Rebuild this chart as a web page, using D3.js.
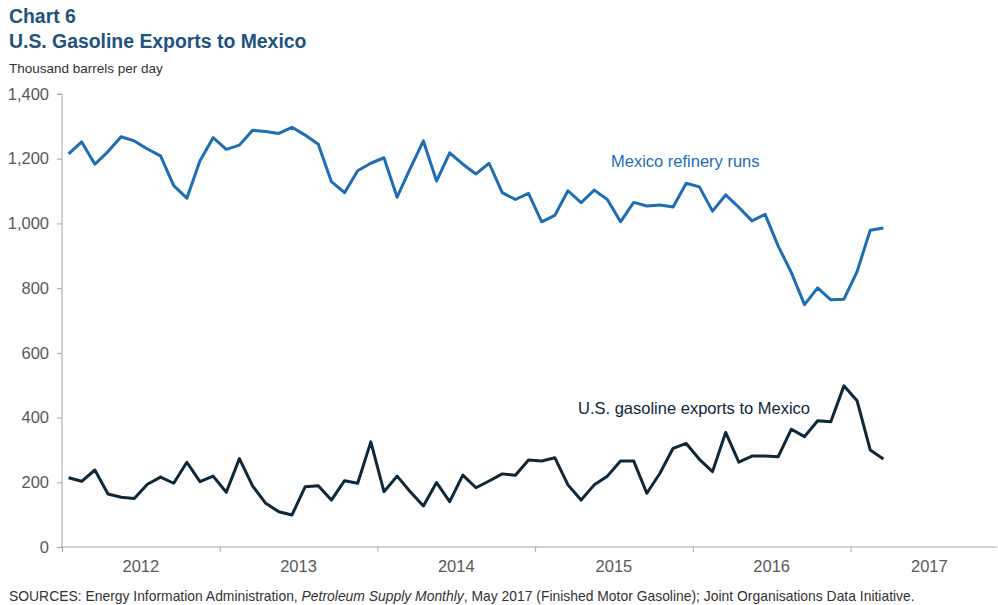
<!DOCTYPE html>
<html>
<head>
<meta charset="utf-8">
<script src="https://cdn.jsdelivr.net/npm/d3@7"></script>
<style>
  body { margin: 0; background: #fff; }
  svg { display: block; font-family: "Liberation Sans", Arial, sans-serif; }
</style>
</head>
<body>
<svg id="chart" width="998" height="605"></svg>
<script>
// monthly values, Jan 2012 - Mar 2017
var years = ["2012", "2013", "2014", "2015", "2016", "2017"];
var yTicks = [0, 200, 400, 600, 800, 1000, 1200, 1400];

var refineryRuns = [
    1215, 1252, 1183, 1222, 1268, 1255, 1230, 1209, 1117, 1078, 1194, 1265,
    1229, 1242, 1288, 1284, 1278, 1297, 1273, 1245, 1129, 1095, 1163, 1186,
    1203, 1081, 1170, 1255, 1131, 1218, 1183, 1153, 1186, 1095, 1074, 1093,
    1005, 1025, 1101, 1064, 1103, 1074, 1005, 1065, 1054, 1057, 1051, 1124,
    1113, 1038, 1088, 1050, 1008, 1028, 930, 848, 749, 801, 764, 766,
    851, 979, 986
];

var gasolineExports = [
    214, 203, 238, 164, 154, 150, 194, 216, 197, 262, 202, 219,
    169, 273, 189, 135, 109, 99, 186, 189, 145, 205, 197, 325,
    171, 219, 171, 127, 199, 140, 222, 183, 204, 226, 222, 269,
    266, 276, 192, 145, 192, 219, 266, 266, 166, 228, 305, 320,
    271, 233, 354, 262, 281, 281, 279, 364, 341, 390, 387, 498,
    452, 300, 272
];

const draw = () =>
{
    var svg = d3.select("#chart");

    var plotLeft = 62, plotRight = 997, plotTop = 94, plotBottom = 547;
    var monthW = 157.7 / 12;

    var x = d3.scaleLinear().domain([0, 72]).range([plotLeft, plotLeft + 72 * monthW]);
    var y = d3.scaleLinear().domain([0, 1400]).range([plotBottom, plotTop]);

    // titles
    svg.append("text").attr("x", 9).attr("y", 23)
        .attr("font-size", 19.4).attr("font-weight", "bold").attr("fill", "#22527f")
        .text("Chart 6");
    svg.append("text").attr("x", 9).attr("y", 48)
        .attr("font-size", 19.4).attr("font-weight", "bold").attr("fill", "#22527f")
        .text("U.S. Gasoline Exports to Mexico");
    svg.append("text").attr("x", 9).attr("y", 73)
        .attr("font-size", 13.5).attr("fill", "#333")
        .text("Thousand barrels per day");

    // y axis
    var yAxis = svg.append("g").attr("transform", `translate(${plotLeft},0)`)
        .call(d3.axisLeft(y).tickValues(yTicks).tickSize(5).tickPadding(8)
            .tickFormat(d3.format(",")));
    yAxis.select(".domain").attr("stroke", "#a6a6a6").attr("d", `M-5,${plotTop}H0V${plotBottom}`);
    yAxis.selectAll(".tick line").attr("stroke", "#a6a6a6");
    yAxis.selectAll(".tick text").attr("font-size", 16.5).attr("fill", "#595959")
        .attr("font-family", "Liberation Sans, Arial, sans-serif");

    // x axis
    var xAxis = svg.append("g").attr("transform", `translate(0,${plotBottom})`)
        .call(d3.axisBottom(x).tickValues([0, 12, 24, 36, 48, 60]).tickSize(5).tickFormat(""));
    xAxis.select(".domain").attr("stroke", "#a6a6a6").attr("d", `M${plotLeft},0H${plotRight}`);
    xAxis.selectAll(".tick line").attr("stroke", "#a6a6a6");

    svg.append("g").selectAll("text")
        .data(years)
        .enter().append("text")
        .attr("x", (d, i) => x(i * 12 + 6))
        .attr("y", plotBottom + 25)
        .attr("text-anchor", "middle")
        .attr("font-size", 16.5).attr("fill", "#595959")
        .text(d => d);

    // lines
    var line = d3.line()
        .x((d, i) => x(i + 0.5))
        .y(d => y(d));

    svg.append("path").datum(refineryRuns)
        .attr("fill", "none").attr("stroke", "#1f6db4").attr("stroke-width", 3)
        .attr("stroke-linejoin", "round")
        .attr("d", line);

    svg.append("path").datum(gasolineExports)
        .attr("fill", "none").attr("stroke", "#0e2739").attr("stroke-width", 3)
        .attr("stroke-linejoin", "round")
        .attr("d", line);

    // series labels
    svg.append("text").attr("x", 611).attr("y", 167)
        .attr("font-size", 16.5).attr("fill", "#1f6db4")
        .text("Mexico refinery runs");
    svg.append("text").attr("x", 578).attr("y", 414)
        .attr("font-size", 16.5).attr("fill", "#0e2739")
        .text("U.S. gasoline exports to Mexico");

    // source
    var src = svg.append("text").attr("x", 9).attr("y", 601)
        .attr("font-size", 13.9).attr("fill", "#333");
    src.append("tspan").text("SOURCES: Energy Information Administration, ");
    src.append("tspan").attr("font-style", "italic").text("Petroleum Supply Monthly");
    src.append("tspan").text(", May 2017 (Finished Motor Gasoline); Joint Organisations Data Initiative.");
};

draw();
</script>
</body>
</html>
